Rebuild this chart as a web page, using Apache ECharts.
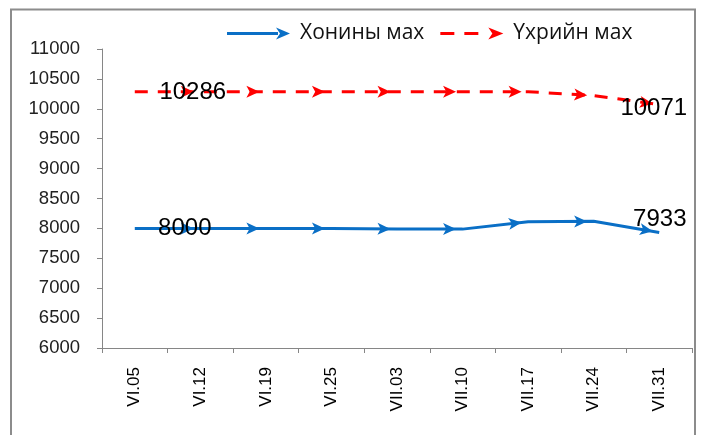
<!DOCTYPE html>
<html>
<head>
<meta charset="utf-8">
<script src="https://cdn.jsdelivr.net/npm/echarts@6/dist/echarts.min.js"></script>
<style>
html,body{margin:0;padding:0;background:#fff;}
#c{width:702px;height:435px;}
</style>
</head>
<body>
<div id="c"></div>
<script>
// ---- data ----
const categories = ['VI.05','VI.12','VI.19','VI.25','VII.03','VII.10','VII.17','VII.24','VII.31'];
const seriesNames = ['Хонины мах', 'Үхрийн мах'];
const sheepMeat = [8000, 8000, 8000, 8000, 7990, 7988, 8112, 8118, 7933];
const beefMeat  = [10286, 10286, 10286, 10286, 10286, 10286, 10286, 10222, 10071];
const yMin = 6000, yMax = 11000, yStep = 500;

// ---- styles ----
const BLUE = '#0a6fc6', RED = '#ff0000';
const labelOffsets = {
  0: { first: [50, 0], last: [7, -12] },
  1: { first: [58, 1], last: [1, 5] }
};
const ARROW_LEN = 13;
const blueIcon = 'path://M0,4.5L51,4.5L51,7.5L0,7.5Z M49,0L63,6L49,12L53,6Z';
const redIcon  = 'path://M0,4.5L14,4.5L14,7.5L0,7.5Z M24,4.5L38,4.5L38,7.5L24,7.5Z M48,0L63,6L48,12L52,6Z';
const labelStyle = { color: '#000', fontSize: 24, fontFamily: 'Liberation Sans, Arial, sans-serif' };

function buildData(seriesIndex, vals, pts) {
  return vals.map((v, i) => {
    const item = { value: v };
    let so = [0, 0];
    if (i === 0) {
      item.symbolSize = 0;
    } else if (pts) {
      const dx = pts[i][0] - pts[i-1][0], dy = pts[i][1] - pts[i-1][1];
      const ang = Math.atan2(dy, dx);
      item.symbolRotate = -90 - ang * 180 / Math.PI;
      so = [-ARROW_LEN / 2 * Math.cos(ang), -ARROW_LEN / 2 * Math.sin(ang)];
      item.symbolOffset = so;
    }
    if (i === 0 || i === vals.length - 1) {
      const base = i === 0 ? labelOffsets[seriesIndex].first : labelOffsets[seriesIndex].last;
      item.label = Object.assign({
        show: true, position: 'inside',
        offset: [base[0] - so[0], base[1] - so[1]]
      }, labelStyle);
    }
    return item;
  });
}

const chart = echarts.init(document.getElementById('c'), null, { renderer: 'canvas' });

function makeOption(pts0, pts1) {
  return {
    animation: false,
    backgroundColor: '#fff',
    graphic: [{
      type: 'rect', silent: true, z: 100,
      shape: { x: 11, y: 9.5, width: 684, height: 460 },
      style: { fill: 'none', stroke: '#8c8c8c', lineWidth: 2 }
    }],
    legend: {
      left: 222, top: 18,
      itemWidth: 63, itemHeight: 12, itemGap: 16,
      textStyle: { fontFamily: 'Open Sans, sans-serif', fontSize: 21, color: '#111', padding: [0, 0, 0, 5] },
      data: [
        { name: seriesNames[0], icon: blueIcon, itemStyle: { color: BLUE, borderWidth: 0 } },
        { name: seriesNames[1], icon: redIcon, itemStyle: { color: RED, borderWidth: 0 } }
      ]
    },
    grid: { left: 102, right: 10, top: 49, bottom: 87, containLabel: false },
    xAxis: {
      type: 'category', data: categories, boundaryGap: true,
      axisLine: { lineStyle: { color: '#868686', width: 1 } },
      axisTick: { show: true, length: 5, lineStyle: { color: '#868686' } },
      axisLabel: { rotate: 90, fontSize: 17, margin: 19, color: '#000', fontFamily: 'Liberation Sans, Arial, sans-serif' },
      splitLine: { show: false }
    },
    yAxis: {
      type: 'value', min: yMin, max: yMax, interval: yStep,
      axisLine: { show: true, lineStyle: { color: '#868686', width: 1 } },
      axisTick: { show: true, length: 5, lineStyle: { color: '#868686' } },
      axisLabel: { fontSize: 18.5, margin: 22, color: '#222', fontFamily: 'Liberation Sans, Arial, sans-serif',
                   formatter: (v) => String(v) },
      splitLine: { show: false }
    },
    series: [
      {
        name: seriesNames[0], type: 'line',
        data: buildData(0, sheepMeat, pts0),
        symbol: 'arrow', symbolSize: [9, ARROW_LEN],
        lineStyle: { color: BLUE, width: 3 },
        itemStyle: { color: BLUE },
        z: 3
      },
      {
        name: seriesNames[1], type: 'line',
        data: buildData(1, beefMeat, pts1),
        symbol: 'arrow', symbolSize: [9, ARROW_LEN],
        lineStyle: { color: RED, width: 3, type: [13, 10] },
        itemStyle: { color: RED },
        z: 3
      }
    ]
  };
}

chart.setOption(makeOption(null, null));
const pts0 = sheepMeat.map((v, i) => chart.convertToPixel({ seriesIndex: 0 }, [i, v]));
const pts1 = beefMeat.map((v, i) => chart.convertToPixel({ seriesIndex: 1 }, [i, v]));
chart.setOption(makeOption(pts0, pts1), true);
</script>
</body>
</html>
